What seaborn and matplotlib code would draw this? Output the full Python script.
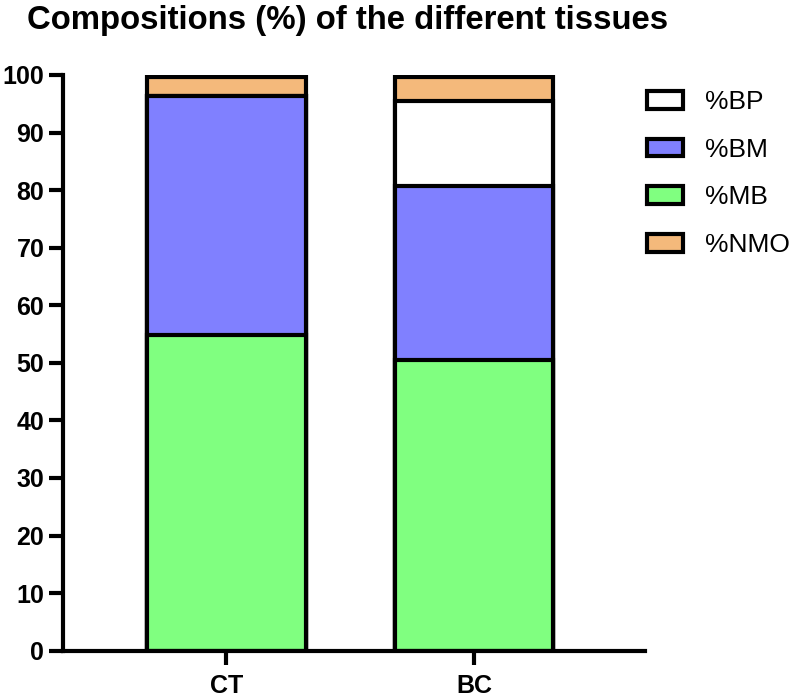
import matplotlib
matplotlib.use("Agg")
import matplotlib.pyplot as plt
from matplotlib.patches import Patch
import seaborn as sns
import numpy as np
import pandas as pd

# ---- data ----
tissues = ["CT", "BC"]
mb = [54.9, 50.5]    # %MB
bm = [41.5, 30.3]    # %BM
bp = [0.0, 14.7]     # %BP
nmo = [3.3, 4.1]     # %NMO
title = "Compositions (%) of the different tissues"
yticks = [0, 10, 20, 30, 40, 50, 60, 70, 80, 90, 100]

colors = {"%MB": "#80FF80", "%BM": "#8080FF", "%BP": "#FFFFFF", "%NMO": "#F4B97B"}

sns.set_theme(style="ticks")
plt.rcParams["font.family"] = ["Liberation Sans", "DejaVu Sans"]
plt.rcParams["text.color"] = "black"
plt.rcParams["xtick.color"] = "black"
plt.rcParams["ytick.color"] = "black"
plt.rcParams["xtick.labelcolor"] = "black"
plt.rcParams["ytick.labelcolor"] = "black"

fig = plt.figure(figsize=(7.92, 6.97), dpi=100)
ax = fig.add_axes([63/792, 1-650.7/697, (645-63)/792, (650.7-75)/697])

layers = [("%MB", mb), ("%BM", bm), ("%BP", bp), ("%NMO", nmo)]
cum = np.zeros(len(tissues))
tops = []
for name, vals in layers:
    cum = cum + np.array(vals)
    tops.append((name, cum.copy()))

# draw from the highest cumulative layer down so each overlays the previous
for name, top in reversed(tops):
    df = pd.DataFrame({"tissue": tissues, "value": top})
    sns.barplot(data=df, x="tissue", y="value", order=tissues, color=colors[name],
                saturation=1, width=0.64, edgecolor="black", linewidth=3.0,
                ax=ax, errorbar=None)

ax.set_xlim(-0.66, 1.69)
ax.set_ylim(0, 100)
ax.set_yticks(yticks)
ax.set_xlabel("")
ax.set_ylabel("")
sns.despine(ax=ax)
for s in ["left", "bottom"]:
    ax.spines[s].set_linewidth(3.0)
    ax.spines[s].set_color("black")
ax.tick_params(axis="y", length=10, width=3.0, color="black", pad=3.5, labelsize=18)
ax.tick_params(axis="x", length=10, width=3.0, color="black", pad=7, labelsize=18)
for lab in ax.get_yticklabels() + ax.get_xticklabels():
    lab.set_fontweight("bold")
    lab.set_color("black")

fig.suptitle(title, x=348/792, y=0.993, fontsize=23.7, fontweight="bold", va="top",
             color="black")

legend_order = ["%BP", "%BM", "%MB", "%NMO"]
handles = [Patch(facecolor=colors[n], edgecolor="black", linewidth=3.0) for n in legend_order]
fig.legend(handles, legend_order, loc="upper left", bbox_to_anchor=(647/792, 1-90/697),
           frameon=False, fontsize=19, borderpad=0, borderaxespad=0,
           handlelength=1.35, handleheight=0.65, handletextpad=0.85, labelspacing=0.9,
           labelcolor="black")

fig.savefig("out.png", dpi=100)
